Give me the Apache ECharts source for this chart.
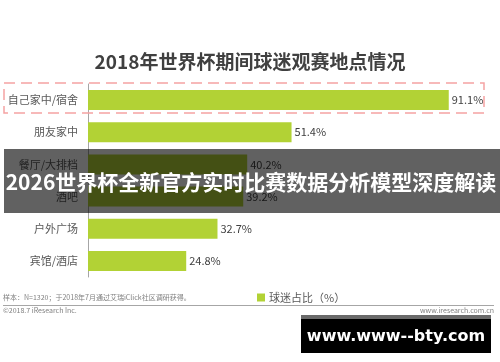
<!DOCTYPE html>
<html>
<head>
<meta charset="utf-8">
<script src="https://cdn.jsdelivr.net/npm/echarts@6/dist/echarts.min.js"></script>
<style>
html,body{margin:0;padding:0;background:#fff;}
#chart{width:500px;height:362px;}
</style>
</head>
<body>
<div id="chart"></div>
<script>
const titleText = '2018年世界杯期间球迷观赛地点情况';
const categories = ['自己家中/宿舍', '朋友家中', '餐厅/大排档', '酒吧', '户外广场', '宾馆/酒店'];
const shares = [91.1, 51.4, 40.2, 39.2, 32.7, 24.8];
const seriesName = '球迷占比（%）';
const bannerText = '2026世界杯全新官方实时比赛数据分析模型深度解读';
const sourceNote = '样本：N=1320；于2018年7月通过艾瑞iClick社区调研获得。';
const copyright = '©2018.7 iResearch Inc.';
const site = 'www.iresearch.com.cn';
const watermark = 'www.www--bty.com';

const FONT = '"Noto Sans CJK SC", "Noto Sans", sans-serif';
const chart = echarts.init(document.getElementById('chart'), null, {renderer: 'canvas'});
chart.setOption({
  animation: false,
  backgroundColor: '#fff',
  textStyle: {fontFamily: FONT},
  title: {
    text: titleText,
    left: 'center',
    top: 47,
    textStyle: {fontSize: 19, fontWeight: 'bold', color: '#404040', fontFamily: FONT}
  },
  legend: {
    left: 252,
    top: 287,
    itemWidth: 8,
    itemHeight: 8,
    itemGap: 4,
    icon: 'rect',
    textStyle: {fontSize: 11, color: '#595959', fontFamily: FONT, padding: [0,0,0,-1]},
    data: [seriesName]
  },
  grid: {left: 88, top: 84, width: 396, height: 193, containLabel: false},
  xAxis: {
    type: 'value', min: 0, max: 100, show: false
  },
  yAxis: {
    type: 'category',
    data: categories,
    inverse: true,
    axisLine: {show: true, lineStyle: {color: '#a6a6a6', width: 1}},
    axisTick: {show: false},
    axisLabel: {fontSize: 11, color: '#595959', margin: 10, fontFamily: FONT},
    splitLine: {show: false}
  },
  series: [{
    name: seriesName,
    type: 'bar',
    data: shares,
    barWidth: 20,
    itemStyle: {color: '#b2d235'},
    label: {
      show: true, position: 'right', distance: 3,
      formatter: p => p.value.toFixed(1) + '%',
      fontSize: 11, color: '#404040', fontFamily: FONT
    }
  }],
  graphic: [
    {type: 'rect', z: 50, shape: {x: 4, y: 83, width: 480, height: 30},
     style: {fill: 'none', stroke: '#f5a3a3', lineWidth: 1.5, lineDash: [11, 6]}},
    {type: 'text', z: 50, style: {x: 3, y: 297, text: sourceNote, fontSize: 7, fill: '#7f7f7f', fontFamily: FONT, verticalAlign: 'middle'}},
    {type: 'line', z: 50, shape: {x1: 3, y1: 305.5, x2: 494, y2: 305.5}, style: {stroke: '#a6a6a6', lineWidth: 1}},
    {type: 'text', z: 50, style: {x: 3, y: 310, text: copyright, fontSize: 7, fill: '#7f7f7f', fontFamily: FONT, verticalAlign: 'middle'}},
    {type: 'text', z: 50, style: {x: 494, y: 310, text: site, fontSize: 7, fill: '#7f7f7f', fontFamily: FONT, align: 'right', verticalAlign: 'middle'}},
    {type: 'rect', z: 100, shape: {x: 4, y: 149, width: 496, height: 64}, style: {fill: 'rgba(0,0,0,0.62)'}},
    {type: 'text', z: 101, style: {x: 251, y: 182, text: bannerText, fontSize: 21, fontWeight: 'bold', fill: '#fff', fontFamily: FONT, align: 'center', verticalAlign: 'middle'}},
    {type: 'rect', z: 100, shape: {x: 301, y: 315, width: 190, height: 38}, style: {fill: '#000'}},
    {type: 'rect', z: 101, shape: {x: 301, y: 315, width: 190, height: 4}, style: {fill: '#6a6a6a'}},
    {type: 'text', z: 101, style: {x: 396, y: 337, text: watermark, fontSize: 16, fontWeight: 'bold', fill: '#fff', fontFamily: '"DejaVu Sans", sans-serif', align: 'center', verticalAlign: 'middle'}}
  ]
});
</script>
</body>
</html>
